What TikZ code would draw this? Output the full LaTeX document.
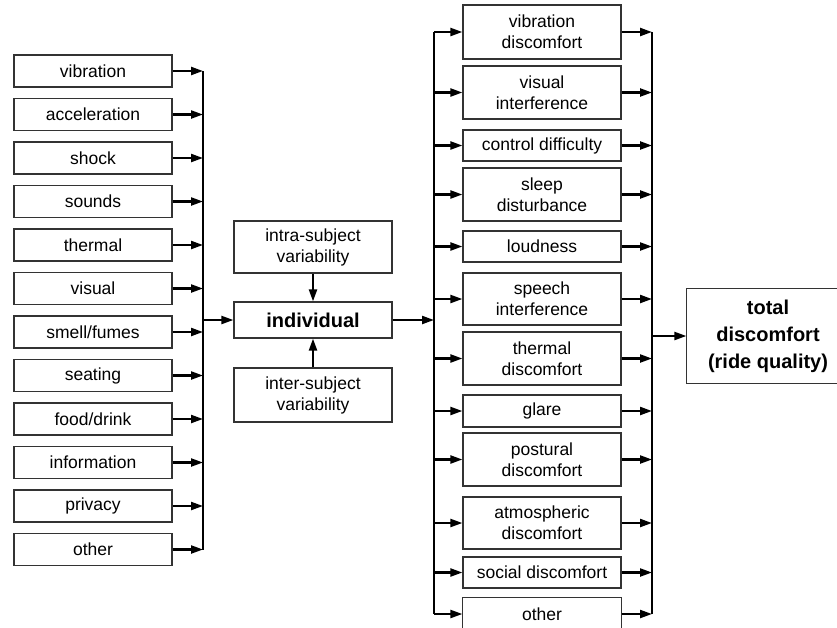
\documentclass[tikz,border=0pt]{standalone}
\usepackage{fontspec}
\setmainfont{Liberation Sans}
\usepackage{tikz}
\usetikzlibrary{arrows.meta}

\begin{document}
\begin{tikzpicture}[x=1pt, y=-1pt,
    factor/.style={rectangle, draw=black!80, line width=1.2pt, minimum width=158pt, minimum height=32pt, inner sep=0pt, align=center, font=\fontsize{17.5}{21}\selectfont},
    tallfactor/.style={factor, minimum height=53pt},
    bigbox/.style={factor, font=\fontsize{20}{27}\selectfont\bfseries},
    frame/.style={draw=black!80, line width=1.2pt},
    conn/.style={line width=2.2pt, -{Triangle[length=12pt,width=8pt]}},
    bus/.style={line width=2.2pt}]
    \useasboundingbox (0,0) rectangle (837,627);
    \clip (0,0) rectangle (837,627);

    % Sources of discomfort
    \node[factor] (vib) at (93, 71) {vibration};
    \node[factor] (acc) at (93, 114.5) {acceleration};
    \node[factor] (shock) at (93, 158) {shock};
    \node[factor] (sounds) at (93, 201.5) {sounds};
    \node[factor] (thermal) at (93, 245) {thermal};
    \node[factor] (visual) at (93, 288.5) {visual};
    \node[factor] (smell) at (93, 332) {smell/fumes};
    \node[factor] (seating) at (93, 375.5) {seating};
    \node[factor] (food) at (93, 419) {food/drink};
    \node[factor] (info) at (93, 462.5) {information};
    \node[factor] (privacy) at (93, 506) {privacy};
    \node[factor] (other) at (93, 549.5) {other};
    \coordinate (lbus) at (203, 71);

    % Individual and variability
    \node[factor, minimum height=52pt] (intra) at (313, 247) {intra-subject\\variability};
    \node[bigbox, minimum height=36pt] (indiv) at (313, 320) {individual};
    \node[factor, minimum height=54pt] (inter) at (313, 395) {inter-subject\\variability};

    % Types of discomfort
    \node[tallfactor, minimum height=54pt] (dvib) at (542, 32) {vibration\\discomfort};
    \node[tallfactor] (dvis) at (542, 92.5) {visual\\interference};
    \node[factor, minimum height=31pt] (dctrl) at (542, 145.5) {control difficulty};
    \node[tallfactor] (dsleep) at (542, 194.5) {sleep\\disturbance};
    \node[factor, minimum height=31pt] (dloud) at (542, 246.5) {loudness};
    \node[tallfactor, minimum height=52pt] (dspeech) at (542, 299) {speech\\interference};
    \node[tallfactor] (dtherm) at (542, 358.5) {thermal\\discomfort};
    \node[factor] (dglare) at (542, 411) {glare};
    \node[tallfactor] (dpost) at (542, 459.5) {postural\\discomfort};
    \node[tallfactor, minimum height=52pt] (datmo) at (542, 523) {atmospheric\\discomfort};
    \node[factor, minimum height=31pt] (dsocial) at (542, 572.5) {social discomfort};
    \node[factor, draw=none] (dother) at (542, 614) {other};
    \draw[frame] (dother.south west) ++(0,20) |- (dother.north east) -- ++(0,52);
    \coordinate (rbusl) at (434, 32);
    \coordinate (rbusr) at (652, 32);

    % Total (runs off the right edge)
    \node[bigbox, draw=none, minimum height=94pt, minimum width=162pt] (total) at (768, 336) {total\\discomfort\\(ride quality)};
    \draw[frame] (total.north east) ++(40,0) -| (total.south west) -- ++(202,0);

    % Left bus
    \draw[bus] (vib -| lbus) -- (other -| lbus);
    \draw[conn] (vib.east) -- (vib -| lbus);
    \draw[conn] (acc.east) -- (acc -| lbus);
    \draw[conn] (shock.east) -- (shock -| lbus);
    \draw[conn] (sounds.east) -- (sounds -| lbus);
    \draw[conn] (thermal.east) -- (thermal -| lbus);
    \draw[conn] (visual.east) -- (visual -| lbus);
    \draw[conn] (smell.east) -- (smell -| lbus);
    \draw[conn] (seating.east) -- (seating -| lbus);
    \draw[conn] (food.east) -- (food -| lbus);
    \draw[conn] (info.east) -- (info -| lbus);
    \draw[conn] (privacy.east) -- (privacy -| lbus);
    \draw[conn] (other.east) -- (other -| lbus);
    \draw[conn] (indiv -| lbus) -- (indiv.west);

    \draw[conn] (intra.south) -- (indiv.north);
    \draw[conn] (inter.north) -- (indiv.south);

    % Right buses
    \draw[bus] (dvib -| rbusl) -- (dother -| rbusl);
    \draw[bus] (dvib -| rbusr) -- (dother -| rbusr);
    \draw[conn] (indiv.east) -- (indiv -| rbusl);
    \draw[conn] (dvib -| rbusl) -- (dvib.west);
    \draw[conn] (dvis -| rbusl) -- (dvis.west);
    \draw[conn] (dctrl -| rbusl) -- (dctrl.west);
    \draw[conn] (dsleep -| rbusl) -- (dsleep.west);
    \draw[conn] (dloud -| rbusl) -- (dloud.west);
    \draw[conn] (dspeech -| rbusl) -- (dspeech.west);
    \draw[conn] (dtherm -| rbusl) -- (dtherm.west);
    \draw[conn] (dglare -| rbusl) -- (dglare.west);
    \draw[conn] (dpost -| rbusl) -- (dpost.west);
    \draw[conn] (datmo -| rbusl) -- (datmo.west);
    \draw[conn] (dsocial -| rbusl) -- (dsocial.west);
    \draw[conn] (dother -| rbusl) -- (dother.west);
    \draw[conn] (dvib.east) -- (dvib -| rbusr);
    \draw[conn] (dvis.east) -- (dvis -| rbusr);
    \draw[conn] (dctrl.east) -- (dctrl -| rbusr);
    \draw[conn] (dsleep.east) -- (dsleep -| rbusr);
    \draw[conn] (dloud.east) -- (dloud -| rbusr);
    \draw[conn] (dspeech.east) -- (dspeech -| rbusr);
    \draw[conn] (dtherm.east) -- (dtherm -| rbusr);
    \draw[conn] (dglare.east) -- (dglare -| rbusr);
    \draw[conn] (dpost.east) -- (dpost -| rbusr);
    \draw[conn] (datmo.east) -- (datmo -| rbusr);
    \draw[conn] (dsocial.east) -- (dsocial -| rbusr);
    \draw[conn] (dother.east) -- (dother -| rbusr);
    \draw[conn] (total -| rbusr) -- (total.west);
\end{tikzpicture}
\end{document}
